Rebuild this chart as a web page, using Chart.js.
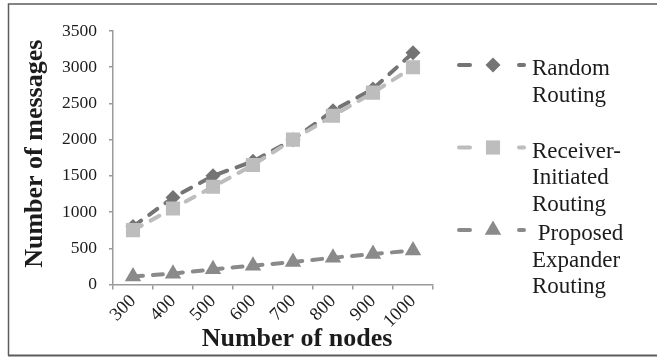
<!DOCTYPE html>
<html>
<head>
<meta charset="utf-8">
<script src="https://cdn.jsdelivr.net/npm/chart.js@4.4.1/dist/chart.umd.min.js"></script>
<style>
  html, body { margin: 0; padding: 0; background: #fff; }
  #wrap { width: 657px; height: 357px; position: relative; }
</style>
</head>
<body>
<div id="wrap"><canvas id="c" width="657" height="357"></canvas></div>
<script>
// Message counts per network size
const nodeCounts = ['300', '400', '500', '600', '700', '800', '900', '1000'];
const randomRouting = [800, 1200, 1500, 1700, 2000, 2400, 2700, 3200];
const receiverInitiated = [750, 1050, 1350, 1650, 2000, 2330, 2650, 3000];
const proposedExpander = [110, 150, 210, 260, 310, 370, 420, 470];

const seriesLabels = [
  ['Random', 'Routing'],
  ['Receiver-', 'Initiated', 'Routing'],
  [' Proposed', 'Expander', 'Routing']
];
const yMin = 0;
const yMax = 3500;
const yStep = 500;
const xTitle = 'Number of nodes';
const yTitle = 'Number of messages';

const SERIF = '"Liberation Serif", "Times New Roman", Times, serif';
const TEXT = '#1c1c1c';
const AXIS = '#9a9a9a';

// Frame, axis titles and the multi-line legend on the right
const decorPlugin = {
  id: 'decor',
  beforeDraw(chart) {
    const ctx = chart.ctx;
    ctx.save();
    ctx.fillStyle = '#fff';
    ctx.fillRect(0, 0, chart.width, chart.height);
    ctx.restore();
  },
  afterDraw(chart) {
    const ctx = chart.ctx;
    const ca = chart.chartArea;
    ctx.save();

    // outer frame (open on the right)
    ctx.strokeStyle = '#5c5c5c';
    ctx.lineWidth = 1.5;
    ctx.beginPath();
    ctx.moveTo(chart.width, 4);
    ctx.lineTo(8.5, 4);
    ctx.lineTo(8.5, 355.5);
    ctx.stroke();
    ctx.lineWidth = 2;
    ctx.beginPath();
    ctx.moveTo(8, 355.5);
    ctx.lineTo(chart.width, 355.5);
    ctx.stroke();

    // axis titles
    ctx.fillStyle = TEXT;
    ctx.font = 'bold 26px ' + SERIF;
    ctx.textAlign = 'center';
    ctx.textBaseline = 'alphabetic';
    ctx.fillText(xTitle, (ca.left + ca.right) / 2 + 24, 346);
    ctx.save();
    ctx.translate(42, (ca.top + ca.bottom) / 2 - 4);
    ctx.rotate(-Math.PI / 2);
    ctx.fillText(yTitle, 0, 0);
    ctx.restore();

    // legend
    chart.data.datasets.forEach((ds, i) => {
      const lines = seriesLabels[i];
      const base = 75 + i * 82.5;
      const sy = base - 10;
      ctx.strokeStyle = ds.borderColor;
      ctx.lineWidth = 4;
      ctx.lineCap = 'round';
      ctx.setLineDash([]);
      ctx.beginPath();
      ctx.moveTo(459, sy); ctx.lineTo(470, sy);
      ctx.moveTo(519, sy); ctx.lineTo(524, sy);
      ctx.stroke();
      ctx.fillStyle = ds.pointBackgroundColor;
      ctx.strokeStyle = ds.pointBackgroundColor;
      Chart.helpers.drawPoint(ctx, {
        pointStyle: ds.pointStyle,
        radius: ds.pointRadius,
        rotation: 0,
        borderWidth: 0
      }, 493, sy);
      ctx.fillStyle = TEXT;
      ctx.font = '23px ' + SERIF;
      ctx.textAlign = 'left';
      ctx.textBaseline = 'alphabetic';
      lines.forEach((t, k) => ctx.fillText(t, 532, base + k * 26.7));
    });

    ctx.restore();
  }
};

function series(label, data, color, style, radius, order) {
  return {
    label: label,
    data: data,
    borderColor: color,
    backgroundColor: color,
    pointBackgroundColor: color,
    pointBorderColor: color,
    pointBorderWidth: 0,
    pointStyle: style,
    pointRadius: radius,
    pointHoverRadius: radius,
    borderWidth: 4,
    borderDash: [10, 10],
    borderCapStyle: 'round',
    tension: 0,
    fill: false,
    order: order
  };
}

function build() {
  new Chart(document.getElementById('c'), {
    type: 'line',
    data: {
      labels: nodeCounts,
      datasets: [
        series(seriesLabels[0].join(' '), randomRouting, '#747474', 'rectRot', 7.5, 1),
        series(seriesLabels[1].join(' '), receiverInitiated, '#bdbdbd', 'rect', 10, 0),
        series(seriesLabels[2].join(' ').trim(), proposedExpander, '#8a8a8a', 'triangle', 9.5, 2)
      ]
    },
    options: {
      responsive: false,
      animation: false,
      devicePixelRatio: 1,
      layout: { padding: { left: 0, top: 31, right: 224, bottom: 0 } },
      plugins: {
        legend: { display: false },
        tooltip: { enabled: false }
      },
      scales: {
        x: {
          offset: true,
          grid: {
            offset: true,
            drawOnChartArea: false,
            drawTicks: true,
            tickLength: 5,
            color: AXIS,
            lineWidth: 1.5
          },
          border: { color: AXIS, width: 1.5 },
          ticks: {
            autoSkip: false,
            minRotation: 45,
            maxRotation: 45,
            padding: 1,
            color: TEXT,
            font: { family: SERIF, size: 18.5 }
          },
          afterFit(scale) { scale.height = 72.5; }
        },
        y: {
          min: yMin,
          max: yMax,
          grid: {
            drawOnChartArea: false,
            drawTicks: true,
            tickLength: 4,
            color: AXIS,
            lineWidth: 1.5
          },
          border: { color: AXIS, width: 1.5 },
          ticks: {
            stepSize: yStep,
            padding: 12,
            color: TEXT,
            font: { family: SERIF, size: 17.5 },
            callback: (v) => String(v)
          },
          afterFit(scale) { scale.width = 113; }
        }
      }
    },
    plugins: [decorPlugin]
  });
}

const fontLoads = [
  '17px "Liberation Serif"',
  '23px "Liberation Serif"',
  'bold 26px "Liberation Serif"'
].map((f) => document.fonts.load(f).catch(() => null));
Promise.all(fontLoads).then(build, build);
</script>
</body>
</html>
